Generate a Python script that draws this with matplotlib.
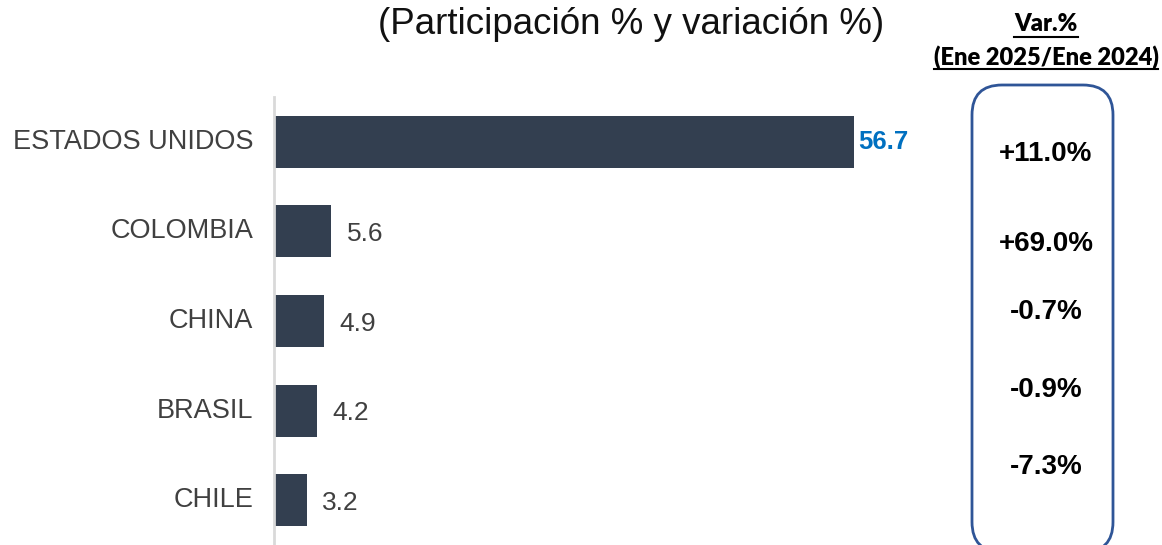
import matplotlib
matplotlib.use("Agg")
import matplotlib.pyplot as plt
from matplotlib.patches import FancyBboxPatch
from matplotlib.lines import Line2D

categories = ["ESTADOS UNIDOS", "COLOMBIA", "CHINA", "BRASIL", "CHILE"]
shares = [56.7, 5.6, 4.9, 4.2, 3.2]
share_labels = ["56.7", "5.6", "4.9", "4.2", "3.2"]
variations = ["+11.0%", "+69.0%", "-0.7%", "-0.9%", "-7.3%"]
title = "(Participación % y variación %)"
var_header = ["Var.%", "(Ene 2025/Ene 2024)"]

W, H = 1162, 545
fig = plt.figure(figsize=(W / 100, H / 100), dpi=100)
plt.rcParams['font.family'] = ['Liberation Sans', 'DejaVu Sans']

ax = fig.add_axes([274 / W, 0, 614 / W, 1 - 97 / H])
ypos = list(range(len(categories)))
bar_color = "#333F50"
ax.barh(ypos, shares, height=0.58, color=bar_color)
ax.set_ylim(len(categories) - 0.5, -0.5)
ax.set_xlim(0, 60)
ax.set_yticks(ypos)
ax.set_yticklabels(categories, fontsize=19.5, color="#404040", va="center")
ax.tick_params(axis="y", length=0, pad=15)
ax.set_xticks([])
for s in ["top", "right", "bottom"]:
    ax.spines[s].set_visible(False)
ax.spines["left"].set_color("#D9D9D9")
ax.spines["left"].set_linewidth(2)

for i, (v, lab) in enumerate(zip(shares, share_labels)):
    if i == 0:
        ax.text(v + 0.4, i, lab, va="center", ha="left", fontsize=18.5,
                fontweight="bold", color="#0070C0")
    else:
        ax.text(v + 1.5, i + 0.03, lab, va="center", ha="left", fontsize=19,
                color="#404040")

fig.text(631 / W, 1 - 25 / H, title, ha="center", va="center",
         fontsize=26.5, color="#111111")

# rounded box (in inches, via dpi_scale_trans)
x0, x1, ytop, ybot = 972, 1113, 85, 552
box = FancyBboxPatch((x0 / 100, (H - ybot) / 100), (x1 - x0) / 100, (ybot - ytop) / 100,
                     boxstyle="round,pad=0,rounding_size=0.3",
                     transform=fig.dpi_scale_trans, fill=False,
                     edgecolor="#2F5597", linewidth=2)
fig.add_artist(box)

var_y = [154, 244, 312, 390, 467]
for yy, t in zip(var_y, variations):
    fig.text(1046 / W, 1 - yy / H, t, ha="center", va="center", fontsize=20,
             fontweight="bold", color="black")

hdr_y = [24, 57]
hdr_texts = []
for yy, t in zip(hdr_y, var_header):
    hdr_texts.append(fig.text(1046 / W, 1 - yy / H, t, ha="center", va="center",
                              fontsize=17, fontweight="heavy", color="black",
                              family=["Lato", "DejaVu Sans"]))

fig.canvas.draw()
r = fig.canvas.get_renderer()
for t, uy in zip(hdr_texts, [37, 69]):
    bb = t.get_window_extent(r)
    fig.add_artist(Line2D([bb.x0 / W, bb.x1 / W], [1 - uy / H, 1 - uy / H],
                          transform=fig.transFigure, color="black", lw=1.5))

fig.savefig("out.png", dpi=100)
